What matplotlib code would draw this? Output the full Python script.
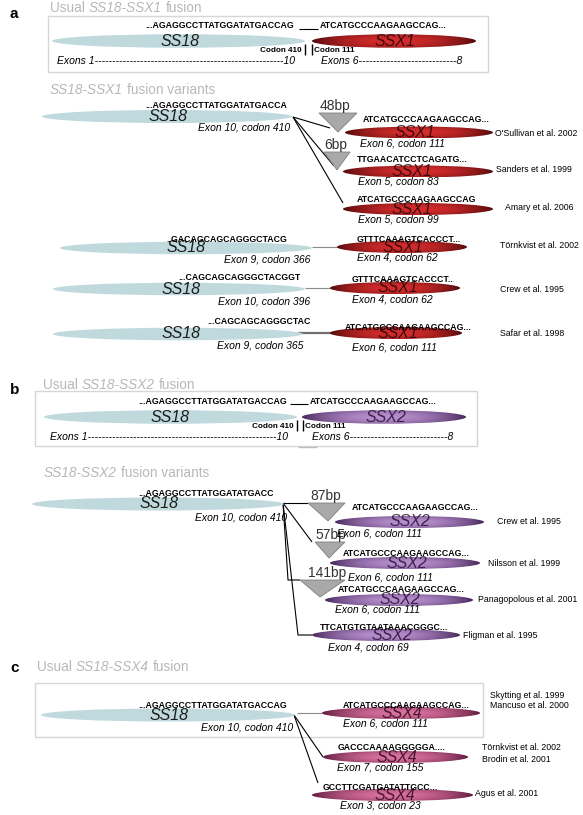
import numpy as np
import matplotlib.pyplot as plt
from matplotlib.patches import Ellipse, Polygon, Rectangle
from matplotlib.colors import to_rgb

plt.rcParams['font.family'] = ['Liberation Sans', 'DejaVu Sans']

# ---------------- text content ----------------
panel_letters = ["a", "b", "c"]
headers_usual = [("Usual", "SS18-SSX1", "fusion"),
                 ("Usual", "SS18-SSX2", "fusion"),
                 ("Usual", "SS18-SSX4", "fusion")]
headers_variants = [("", "SS18-SSX1", "fusion variants"),
                    ("", "SS18-SSX2", "fusion variants")]

usual_ss18_seq = "...AGAGGCCTTATGGATATGACCAG"
usual_ssx_seq = "ATCATGCCCAAGAAGCCAG..."
usual_codons = ["Codon 410", "Codon 111"]
usual_exons = [("Exons 1", "10"), ("Exons 6", "8")]

# SS18-SSX1 variants
a_ss18_seqs = ["...AGAGGCCTTATGGATATGACCA", "..GACAGCAGCAGGGCTACG",
               "...CAGCAGCAGGGCTACGGT", "...CAGCAGCAGGGCTAC"]
a_ss18_exons = ["Exon 10, codon 410", "Exon 9, codon 366",
                "Exon 10, codon 396", "Exon 9, codon 365"]
a_ssx_seqs = ["ATCATGCCCAAGAAGCCAG...", "TTGAACATCCTCAGATG...",
              "ATCATGCCCAAGAAGCCAG", "GTTTCAAAGTCACCCT...",
              "GTTTCAAAGTCACCCT..", "ATCATGCCCAAGAAGCCAG..."]
a_ssx_exons = ["Exon 6, codon 111", "Exon 5, codon 83", "Exon 5, codon 99",
               "Exon 4, codon 62", "Exon 4, codon 62", "Exon 6, codon 111"]
a_refs = ["O'Sullivan et al. 2002", "Sanders et al. 1999", "Amary et al. 2006",
          "Törnkvist et al. 2002", "Crew et al. 1995", "Safar et al. 1998"]
a_inserts = ["48bp", "6bp"]

# SS18-SSX2 variants
b_ss18_seq = "...AGAGGCCTTATGGATATGACC"
b_ss18_exon = "Exon 10, codon 410"
b_ssx_seqs = ["ATCATGCCCAAGAAGCCAG...", "ATCATGCCCAAGAAGCCAG...",
              "ATCATGCCCAAGAAGCCAG...", "TTCATGTGTAATAAACGGGC..."]
b_ssx_exons = ["Exon 6, codon 111", "Exon 6, codon 111",
               "Exon 6, codon 111", "Exon 4, codon 69"]
b_refs = ["Crew et al. 1995", "Nilsson et al. 1999",
          "Panagopolous et al. 2001", "Fligman et al. 1995"]
b_inserts = ["87bp", "57bp", "141bp"]

# SS18-SSX4
c_ss18_seq = "...AGAGGCCTTATGGATATGACCAG"
c_ss18_exon = "Exon 10, codon 410"
c_ssx_seqs = ["ATCATGCCCAAGAAGCCAG...", "GACCCAAAAGGGGGA....",
              "GCCTTCGATGATATTGCC..."]
c_ssx_exons = ["Exon 6, codon 111", "Exon 7, codon 155", "Exon 3, codon 23"]
c_refs = [["Skytting et al. 1999", "Mancuso et al. 2000"],
          ["Törnkvist et al. 2002", "Brodin et al. 2001"],
          ["Agus et al. 2001"]]

# ---------------- styles ----------------
SS18_COL = '#bfd9dd'
HEAD_COL = '#b8b8b8'
GRAD = {'SSX1': ('#4a0709', '#d62c2c'),
        'SSX2': ('#3e2052', '#b88fce'),
        'SSX4': ('#5a1437', '#d9729f')}
LABEL_COL = {'SS18': '#1c1c1c', 'SSX1': '#2b0508',
             'SSX2': '#2a1236', 'SSX4': '#33081d'}
STY = {'seq': dict(fontsize=6.3, fontweight='bold'),
       'exon': dict(fontsize=7.5, style='italic'),
       'ref': dict(fontsize=6.3),
       'codon': dict(fontsize=5.9, fontweight='bold'),
       'gene': dict(fontsize=11.5, style='italic'),
       'bp': dict(fontsize=10, color='#333333')}

fig = plt.figure(figsize=(5.83, 8.15), dpi=100)
ax = fig.add_axes([0, 0, 1, 1])
rend = fig.canvas.get_renderer()


def label(x, y, s, kind, ha='left', **kw):
    st = dict(STY[kind])
    st.update(kw)
    ax.text(x, y, s, ha=ha, va='center', zorder=5, **st)


def header(x, y, parts):
    for s, st in zip(parts, ('normal', 'italic', 'normal')):
        if not s:
            continue
        t = ax.text(x, y, s, fontsize=9.8, style=st, color=HEAD_COL,
                    va='center', ha='left')
        x += t.get_window_extent(renderer=rend).width + 3.8


def ss18(x0, x1, yc, lx, h=13):
    ax.add_patch(Ellipse(((x0 + x1) / 2, yc), x1 - x0, h,
                         facecolor=SS18_COL, edgecolor='none', zorder=2))
    label(lx, yc, 'SS18', 'gene', ha='center', color=LABEL_COL['SS18'])


def ssx(x0, x1, yc, gene, lx, h=12):
    dark, bright = np.array(to_rgb(GRAD[gene][0])), np.array(to_rgb(GRAD[gene][1]))
    e = Ellipse(((x0 + x1) / 2, yc), x1 - x0, h, facecolor='none',
                edgecolor='none', zorder=2)
    ax.add_patch(e)
    t = np.linspace(0, 1, 300)
    v = np.linspace(-1, 1, 24)
    f = np.sin(np.pi * t)[None, :] ** 0.7 * (1 - 0.35 * v[:, None] ** 2)
    img = dark + (bright - dark) * f[..., None]
    im = ax.imshow(img, extent=(x0, x1, yc + h / 2, yc - h / 2), aspect='auto',
                   interpolation='bilinear', zorder=2)
    im.set_clip_path(e)
    label(lx, yc, gene, 'gene', ha='center', color=LABEL_COL[gene], alpha=0.85)


def insert(xl, xr, ytop, xa, ya, text, tx):
    ax.add_patch(Polygon([(xl, ytop), (xr, ytop), (xa, ya)], closed=True,
                         facecolor='#a9a9a9', edgecolor='#808080', lw=0.6, zorder=3))
    label(tx, ytop - 7, text, 'bp')


def line(xs, ys, color='k', lw=0.8):
    ax.plot(xs, ys, color=color, lw=lw, zorder=1, solid_capstyle='butt')


def usual_box(box, seq_x, us, seq2_x, y_seq, yc, bars, ss18_span, ssx_span,
              ss18_lx, ssx_lx, gene, ex_x, y_cod, y_ex, n1, n2):
    x0, y0, x1, y1 = box
    ax.add_patch(Rectangle((x0, y0), x1 - x0, y1 - y0, facecolor='none',
                           edgecolor='#d6d6d6', lw=1.0, zorder=0))
    label(seq_x, y_seq, usual_ss18_seq, 'seq')
    line(us, [y_seq + 2.5] * 2)
    label(seq2_x, y_seq, usual_ssx_seq, 'seq')
    ss18(*ss18_span, yc, ss18_lx, h=13.5)
    ssx(*ssx_span, yc, gene, ssx_lx, h=13.5)
    for bx in bars:
        line([bx, bx], [yc + 3, yc + 14], lw=1.0)
    label(bars[0] - 3, y_cod, usual_codons[0], 'codon', ha='right')
    label(bars[1] + 2, y_cod, usual_codons[1], 'codon')
    label(ex_x[0], y_ex, usual_exons[0][0] + '-' * n1 + usual_exons[0][1], 'exon')
    label(ex_x[1], y_ex, usual_exons[1][0] + '-' * n2 + usual_exons[1][1], 'exon')


# ================= panel a =================
ax.text(10, 14, panel_letters[0], fontsize=11, fontweight='bold', va='center')
header(50, 8, headers_usual[0])
usual_box((48, 16, 488, 72), 145, [299, 318], 320, 26, 41, (305, 312),
          (52, 305), (312, 476), 180, 395, 'SSX1', (57, 321), 50, 61, 54, 28)

header(50, 90, headers_variants[0])
ss18(42, 292, 116.5, 168)
label(145, 105, a_ss18_seqs[0], 'seq')
label(290, 127, a_ss18_exons[0], 'exon', ha='right')
ox, oy = 293, 117
line([ox, 330], [oy, 128])
line([ox, 334], [oy, 166])
line([ox, 343], [oy, 203])
insert(319, 357, 113, 338, 132, a_inserts[0], 320)
insert(324, 350, 152, 337, 170, a_inserts[1], 324)

ssx_rows_a = [(345, 493, 132.5, 415), (343, 493, 171.5, 412), (343, 493, 209, 412)]
seq_pos_a = [(363, 119), (357, 160), (357, 200)]
exon_pos_a = [(360, 143), (358, 182), (358, 220)]
ref_pos_a = [(495, 133), (496, 170), (505, 207)]
for i in range(3):
    x0, x1, yc, lx = ssx_rows_a[i]
    ssx(x0, x1, yc, 'SSX1', lx)
    label(*seq_pos_a[i], a_ssx_seqs[i], 'seq')
    label(*exon_pos_a[i], a_ssx_exons[i], 'exon')
    label(*ref_pos_a[i], a_refs[i], 'ref')

# paired rows (SS18 part, link, SSX1 part)
pair_rows = [
    ((60, 312, 248, 186, 166, 239, 310, 260), (312, 338, 247, '#8a8a8a', 0.8),
     (337, 467, 247, 403, 357, 239, 357, 258, 500, 245)),
    ((53, 305, 289, 181, 178, 278, 310, 302), (305, 332, 288, '#8a8a8a', 0.8),
     (330, 460, 288, 398, 352, 279, 352, 300, 500, 289)),
    ((53, 303, 334, 181, 207, 322, 303, 345), (298, 333, 333, '#6e6e6e', 1.6),
     (330, 462, 333, 398, 345, 327, 352, 347, 500, 333)),
]
for k, (s, lk, r) in enumerate(pair_rows):
    ss18(s[0], s[1], s[2], s[3], h=12.5)
    label(s[4], s[5], a_ss18_seqs[k + 1], 'seq')
    label(s[6], s[7], a_ss18_exons[k + 1], 'exon', ha='right')
    line([lk[0], lk[1]], [lk[2], lk[2]], color=lk[3], lw=lk[4])
    ssx(r[0], r[1], r[2], 'SSX1', r[3])
    label(r[4], r[5], a_ssx_seqs[k + 3], 'seq')
    label(r[6], r[7], a_ssx_exons[k + 3], 'exon')
    label(r[8], r[9], a_refs[k + 3], 'ref')

# ================= panel b =================
ax.text(10, 390, panel_letters[1], fontsize=11, fontweight='bold', va='center')
header(43, 385, headers_usual[1])
usual_box((35, 391, 477, 446), 138, [290, 308], 310, 401, 417, (297, 303),
          (44, 297), (302, 466), 170, 386, 'SSX2', (50, 312), 426, 437, 54, 28)
line([298, 317], [447, 447], color='#bdbdbd', lw=1.0)

header(44, 473, headers_variants[1])
ss18(32, 284, 504, 159)
label(138, 493, b_ss18_seq, 'seq')
label(287, 518, b_ss18_exon, 'exon', ha='right')
ox, oy = 283, 503
line([ox, 308], [oy, oy])
line([ox, 312], [oy, 542])
line([ox, 288, 300], [oy, 580, 580])
line([ox, 298, 312], [oy, 635, 635])
insert(308, 345, 503, 328, 521, b_inserts[0], 310)
insert(315, 345, 542, 329, 558, b_inserts[1], 315)
insert(300, 345, 580, 320, 597, b_inserts[2], 308)

ssx_rows_b = [(335, 484, 522, 410), (330, 480, 563, 407),
              (325, 473, 600, 400), (312, 460, 635, 392)]
seq_pos_b = [(352, 507), (343, 553), (338, 590), (320, 627)]
exon_pos_b = [(337, 534), (348, 577), (335, 609), (328, 648)]
ref_pos_b = [(497, 522), (488, 563), (478, 600), (463, 635)]
for i in range(4):
    x0, x1, yc, lx = ssx_rows_b[i]
    ssx(x0, x1, yc, 'SSX2', lx)
    label(*seq_pos_b[i], b_ssx_seqs[i], 'seq')
    label(*exon_pos_b[i], b_ssx_exons[i], 'exon')
    label(*ref_pos_b[i], b_refs[i], 'ref')

# ================= panel c =================
ax.text(10, 668, panel_letters[2], fontsize=11, fontweight='bold', va='center')
header(37, 667, headers_usual[2])
ax.add_patch(Rectangle((35, 683), 448, 54, facecolor='none',
                       edgecolor='#d6d6d6', lw=1.0, zorder=0))
ss18(41, 295, 715, 169)
label(138, 705, c_ss18_seq, 'seq')
label(293, 728, c_ss18_exon, 'exon', ha='right')
ox, oy = 294, 715
line([297, 322], [713, 713], color='#8a8a8a')
line([ox, 323], [oy, 757])
line([ox, 318], [oy, 783])

ssx_rows_c = [(322, 480, 713, 402), (323, 468, 757, 397), (312, 473, 795, 395)]
seq_pos_c = [(343, 705), (338, 748), (323, 787)]
exon_pos_c = [(343, 723), (337, 768), (340, 806)]
ref_pos_c = [(490, 695), (482, 748), (475, 793)]
for i in range(3):
    x0, x1, yc, lx = ssx_rows_c[i]
    ssx(x0, x1, yc, 'SSX4', lx)
    label(*seq_pos_c[i], c_ssx_seqs[i], 'seq')
    label(*exon_pos_c[i], c_ssx_exons[i], 'exon')
    for j, r in enumerate(c_refs[i]):
        label(ref_pos_c[i][0], ref_pos_c[i][1] + 11 * j, r, 'ref')

ax.set_xlim(0, 583)
ax.set_ylim(815, 0)
ax.axis('off')
fig.savefig('out.png', dpi=100)
